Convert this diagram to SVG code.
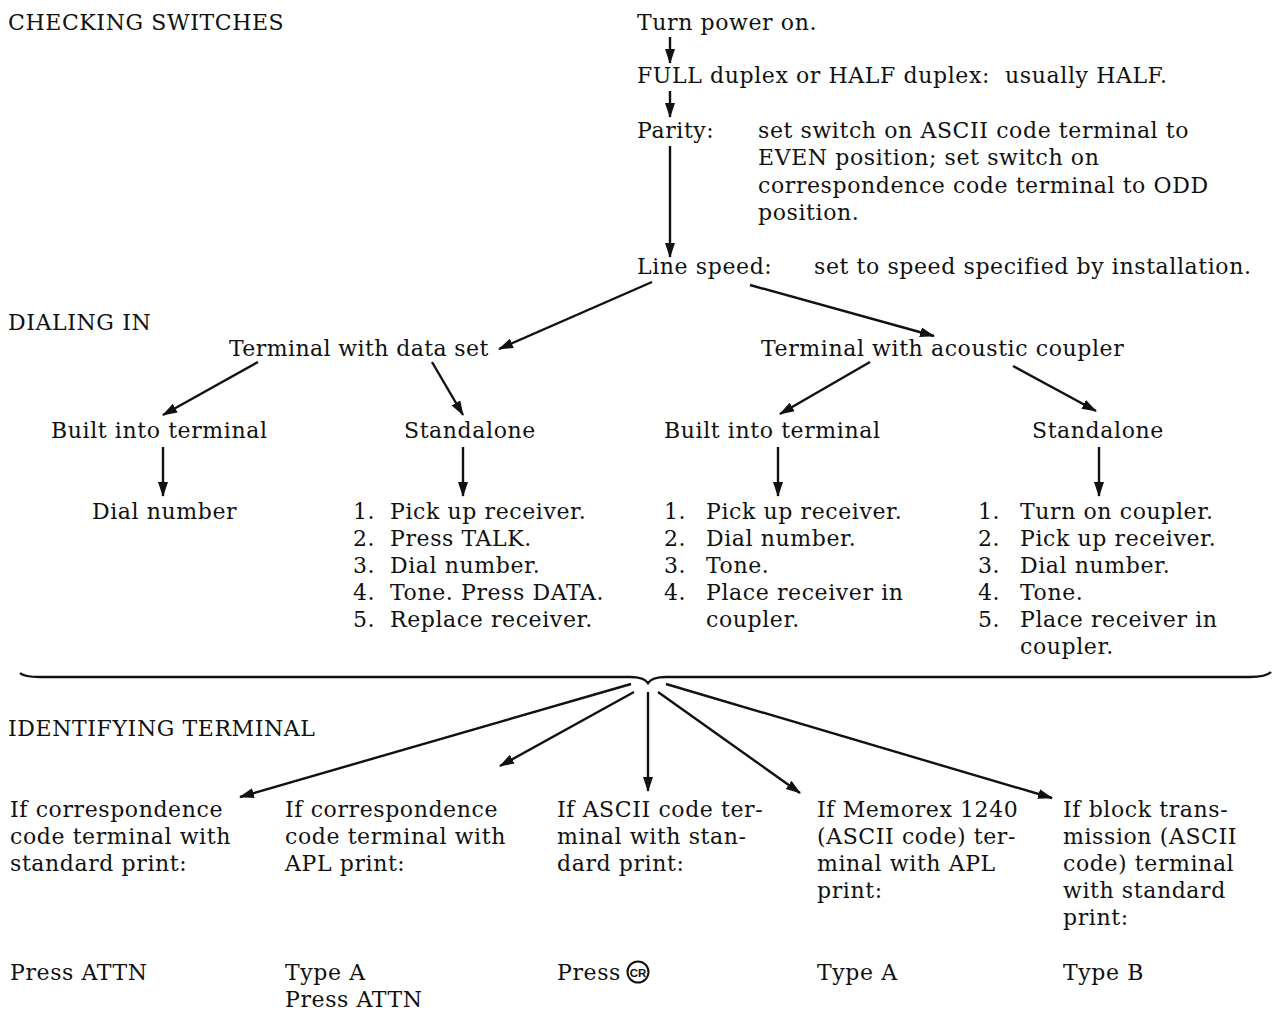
<svg xmlns="http://www.w3.org/2000/svg" width="1275" height="1010" viewBox="0 0 1275 1010">
<style>
text{font-family:"DejaVu Serif","Liberation Serif",serif;font-size:22px;letter-spacing:0.6px;fill:#111}
.c{stroke:#111;stroke-width:2.4;fill:none}
</style>
<defs>
<marker id="ah" markerUnits="userSpaceOnUse" markerWidth="15" markerHeight="12" refX="14" refY="6" orient="auto">
<path d="M0,1 L15,6 L0,11 Z" fill="#111"/>
</marker>
</defs>
<rect width="1275" height="1010" fill="#fff"/>
<g id="headings">
<text x="8" y="30">CHECKING SWITCHES</text>
<text x="8" y="330">DIALING IN</text>
<text x="8" y="736">IDENTIFYING TERMINAL</text>
</g>
<g id="n-power"><text x="637" y="30">Turn power on.</text></g>
<g id="n-duplex"><text x="637" y="83" xml:space="preserve">FULL duplex or HALF duplex:  usually HALF.</text></g>
<g id="n-parity">
<text x="637" y="138">Parity:</text>
<text x="758" y="138">set switch on ASCII code terminal to</text>
<text x="758" y="165">EVEN position; set switch on</text>
<text x="758" y="193">correspondence code terminal to ODD</text>
<text x="758" y="220">position.</text>
</g>
<g id="n-speed">
<text x="637" y="274">Line speed:</text>
<text x="814" y="274">set to speed specified by installation.</text>
</g>
<g id="n-dataset"><text x="229" y="356" style="letter-spacing:0.4px">Terminal with data set</text></g>
<g id="n-acoustic"><text x="761" y="356">Terminal with acoustic coupler</text></g>
<g id="n-built1"><text x="51" y="438">Built into terminal</text></g>
<g id="n-stand1"><text x="404" y="438">Standalone</text></g>
<g id="n-built2"><text x="664" y="438">Built into terminal</text></g>
<g id="n-stand2"><text x="1032" y="438">Standalone</text></g>
<g id="n-dial"><text x="92" y="519">Dial number</text></g>
<g id="n-list1">
<text x="353" y="519">1.</text><text x="390" y="519">Pick up receiver.</text>
<text x="353" y="546">2.</text><text x="390" y="546">Press TALK.</text>
<text x="353" y="573">3.</text><text x="390" y="573">Dial number.</text>
<text x="353" y="600">4.</text><text x="390" y="600">Tone. Press DATA.</text>
<text x="353" y="627">5.</text><text x="390" y="627">Replace receiver.</text>
</g>
<g id="n-list2">
<text x="664" y="519">1.</text><text x="706" y="519">Pick up receiver.</text>
<text x="664" y="546">2.</text><text x="706" y="546">Dial number.</text>
<text x="664" y="573">3.</text><text x="706" y="573">Tone.</text>
<text x="664" y="600">4.</text><text x="706" y="600">Place receiver in</text>
<text x="706" y="627">coupler.</text>
</g>
<g id="n-list3">
<text x="978" y="519">1.</text><text x="1020" y="519">Turn on coupler.</text>
<text x="978" y="546">2.</text><text x="1020" y="546">Pick up receiver.</text>
<text x="978" y="573">3.</text><text x="1020" y="573">Dial number.</text>
<text x="978" y="600">4.</text><text x="1020" y="600">Tone.</text>
<text x="978" y="627">5.</text><text x="1020" y="627">Place receiver in</text>
<text x="1020" y="654">coupler.</text>
</g>
<g id="brace">
<path class="c" d="M20,673 Q24,677 40,677 L630,677 Q644,677 648,683 Q652,677 666,677 L1250,677 Q1266,677 1271,672"/>
</g>
<g id="n-id1">
<text x="10" y="817">If correspondence</text>
<text x="10" y="844">code terminal with</text>
<text x="10" y="871">standard print:</text>
<text x="10" y="980">Press ATTN</text>
</g>
<g id="n-id2">
<text x="285" y="817">If correspondence</text>
<text x="285" y="844">code terminal with</text>
<text x="285" y="871">APL print:</text>
<text x="285" y="980">Type A</text>
<text x="285" y="1007">Press ATTN</text>
</g>
<g id="n-id3">
<text x="557" y="817">If ASCII code ter-</text>
<text x="557" y="844">minal with stan-</text>
<text x="557" y="871">dard print:</text>
<text x="557" y="980">Press</text>
<circle cx="638" cy="972" r="10.5" fill="none" stroke="#111" stroke-width="2"/>
<text x="638" y="976.5" text-anchor="middle" style="font-family:'Liberation Sans',sans-serif;font-size:11.5px;font-weight:bold;letter-spacing:0">CR</text>
</g>
<g id="n-id4">
<text x="817" y="817">If Memorex 1240</text>
<text x="817" y="844">(ASCII code) ter-</text>
<text x="817" y="871">minal with APL</text>
<text x="817" y="898">print:</text>
<text x="817" y="980">Type A</text>
</g>
<g id="n-id5">
<text x="1063" y="817">If block trans-</text>
<text x="1063" y="844">mission (ASCII</text>
<text x="1063" y="871">code) terminal</text>
<text x="1063" y="898">with standard</text>
<text x="1063" y="925">print:</text>
<text x="1063" y="980">Type B</text>
</g>
<g id="connectors" class="c">
<line x1="670" y1="37" x2="670" y2="63" marker-end="url(#ah)"/>
<line x1="670" y1="91" x2="670" y2="117" marker-end="url(#ah)"/>
<line x1="670" y1="146" x2="670" y2="257" marker-end="url(#ah)"/>
<line x1="652" y1="282" x2="499" y2="349" marker-end="url(#ah)"/>
<line x1="750" y1="285" x2="934" y2="336" marker-end="url(#ah)"/>
<line x1="258" y1="362" x2="163" y2="415" marker-end="url(#ah)"/>
<line x1="432" y1="362" x2="463" y2="415" marker-end="url(#ah)"/>
<line x1="870" y1="362" x2="780" y2="414" marker-end="url(#ah)"/>
<line x1="1013" y1="366" x2="1096" y2="411" marker-end="url(#ah)"/>
<line x1="163" y1="447" x2="163" y2="496" marker-end="url(#ah)"/>
<line x1="463" y1="447" x2="463" y2="496" marker-end="url(#ah)"/>
<line x1="778" y1="447" x2="778" y2="496" marker-end="url(#ah)"/>
<line x1="1099" y1="447" x2="1099" y2="496" marker-end="url(#ah)"/>
<line x1="631" y1="684" x2="240" y2="797" marker-end="url(#ah)"/>
<line x1="634" y1="692" x2="500" y2="766" marker-end="url(#ah)"/>
<line x1="648" y1="692" x2="648" y2="791" marker-end="url(#ah)"/>
<line x1="658" y1="692" x2="800" y2="793" marker-end="url(#ah)"/>
<line x1="666" y1="684" x2="1052" y2="798" marker-end="url(#ah)"/>
</g>
</svg>
